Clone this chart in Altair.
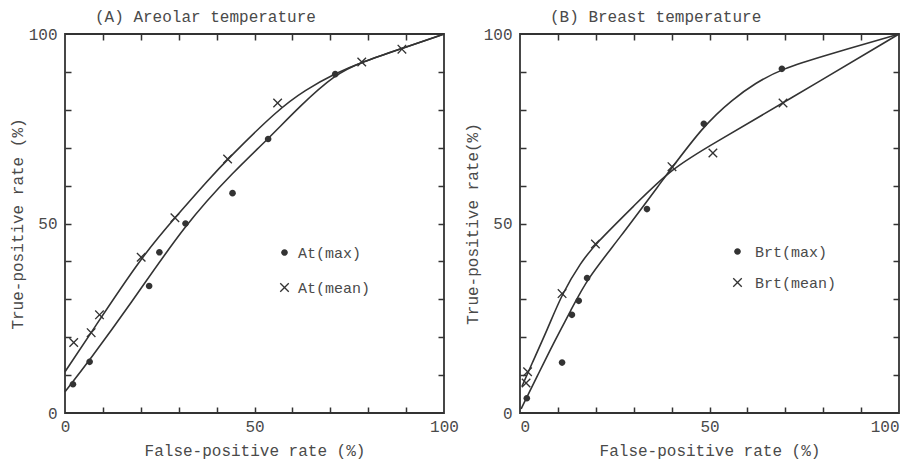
import altair as alt
import pandas as pd

FONT = "Liberation Mono"
INK = "#333333"
TXT = "#4a4a4a"
W, H = 379, 379

# ---------------- Panel A: Areolar temperature ----------------
a_max_fpr = [2.1, 6.5, 22.2, 24.9, 31.8, 44.2, 53.6, 71.3]
a_max_tpr = [7.6, 13.5, 33.5, 42.4, 50.0, 58.0, 72.3, 89.4]
a_mean_fpr = [2.3, 6.9, 9.1, 20.1, 29.0, 42.9, 56.1, 78.3, 88.9]
a_mean_tpr = [18.6, 21.2, 25.9, 41.1, 51.5, 67.0, 81.8, 92.6, 96.0]

a_max_curve_x = [0, 6.5, 16.8, 31.8, 44.8, 53.6, 62.0, 71.3, 78.3, 88.9, 100]
a_max_curve_y = [5.6, 14.0, 28.0, 50.0, 64.0, 72.3, 81.0, 89.4, 92.6, 96.2, 100]
a_mean_curve_x = [0, 6.9, 20.1, 29.0, 37.8, 42.9, 56.1, 63.3, 71.3, 78.3, 88.9, 100]
a_mean_curve_y = [10.9, 21.2, 41.1, 51.5, 61.5, 67.0, 80.0, 85.2, 89.6, 92.6, 96.2, 100]

# ---------------- Panel B: Breast temperature ----------------
b_max_fpr = [1.8, 11.1, 13.7, 15.5, 17.7, 33.5, 48.5, 69.1]
b_max_tpr = [3.9, 13.3, 25.9, 29.6, 35.6, 53.8, 76.3, 90.8]
b_mean_fpr = [1.6, 2.0, 11.1, 19.9, 40.1, 50.9, 69.4]
b_mean_tpr = [7.9, 10.9, 31.5, 44.6, 65.0, 68.6, 81.8]

b_max_curve_x = [0.3, 4.7, 8.6, 13.5, 17.7, 26.1, 37.3, 48.5, 56.2, 62.0, 69.1, 80.0, 100]
b_max_curve_y = [1.1, 10.0, 18.0, 27.2, 35.4, 45.9, 61.0, 76.0, 82.8, 87.0, 90.8, 94.2, 100]
b_mean_curve_x = [0.5, 2.9, 7.3, 11.1, 16.1, 19.9, 30.0, 40.1, 50.9, 69.4, 100]
b_mean_curve_y = [7.0, 12.5, 22.2, 31.5, 39.8, 44.6, 54.6, 64.6, 71.0, 81.8, 100]

CIRCLE = "M0.7,0A0.7,0.7,0,1,1,-0.7,0A0.7,0.7,0,1,1,0.7,0Z"
CROSS = ("M-1,-0.8L-0.8,-1L0,-0.2L0.8,-1L1,-0.8L0.2,0L1,0.8L0.8,1"
         "L0,0.2L-0.8,1L-1,0.8L-0.2,0Z")

inner_ticks = [10, 20, 30, 40, 50, 60, 70, 80, 90]


def scale():
    return alt.Scale(domain=[0, 100], nice=False, zero=False)


def tick_axis(orient):
    return alt.Axis(orient=orient, offset=-(H if orient in ("top", "bottom") else W),
                    values=inner_ticks, labels=False, ticks=True, tickSize=6,
                    tickWidth=1.5, tickColor=INK, domain=False, grid=False, title=None)


def panel(title, y_title, max_lbl, mean_lbl, pmax, pmean, cmax, cmean,
          lx, ly, row_pad, lab_off, flush):
    df_cmax = pd.DataFrame({"fpr": cmax[0], "tpr": cmax[1]})
    df_cmean = pd.DataFrame({"fpr": cmean[0], "tpr": cmean[1]})
    df_pts = pd.concat([
        pd.DataFrame({"fpr": pmax[0], "tpr": pmax[1], "series": max_lbl}),
        pd.DataFrame({"fpr": pmean[0], "tpr": pmean[1], "series": mean_lbl}),
    ])

    line_max = alt.Chart(df_cmax).mark_line(
        interpolate="basis", color=INK, strokeWidth=1.6
    ).encode(
        x=alt.X("fpr:Q", scale=scale(), axis=alt.Axis(
            orient="bottom", values=[0, 50, 100], ticks=False, domain=False, grid=False,
            labelFont=FONT, labelFontSize=16, labelColor=TXT, labelPadding=5,
            labelFlush=flush, title="False-positive rate (%)", titleFont=FONT,
            titleFontSize=16, titleColor=TXT, titleFontWeight="normal", titlePadding=8)),
        y=alt.Y("tpr:Q", scale=scale(), axis=alt.Axis(
            orient="left", values=[0, 50, 100], ticks=False, domain=False, grid=False,
            labelFont=FONT, labelFontSize=16, labelColor=TXT, labelPadding=8,
            title=y_title, titleFont=FONT, titleFontSize=16, titleColor=TXT,
            titleFontWeight="normal", titlePadding=3)),
    )

    points = alt.Chart(df_pts).mark_point(
        filled=True, color=INK, strokeWidth=0, size=90, opacity=1
    ).encode(
        x=alt.X("fpr:Q", scale=scale(), axis=tick_axis("top")),
        y=alt.Y("tpr:Q", scale=scale(), axis=tick_axis("right")),
        shape=alt.Shape("series:N", scale=alt.Scale(domain=[max_lbl, mean_lbl],
                                                    range=[CIRCLE, CROSS]),
                        legend=alt.Legend(
                            title=None, orient="none", legendX=lx, legendY=ly,
                            padding=0, rowPadding=row_pad, labelOffset=lab_off,
                            labelFont=FONT, labelFontSize=15, labelColor=TXT,
                            symbolSize=90, symbolFillColor=INK,
                            symbolStrokeWidth=0)),
    )

    line_mean = alt.Chart(df_cmean).mark_line(
        interpolate="basis", color=INK, strokeWidth=1.6
    ).encode(
        x=alt.X("fpr:Q", scale=scale(), axis=tick_axis("bottom")),
        y=alt.Y("tpr:Q", scale=scale(), axis=tick_axis("left")),
    )

    return alt.layer(line_max, points, line_mean).resolve_axis(
        x="independent", y="independent"
    ).properties(
        width=W, height=H,
        title=alt.TitleParams(title, anchor="start", frame="group", dx=30, font=FONT,
                              fontSize=16, color=TXT, fontWeight="normal", offset=1),
    )


left = panel("(A) Areolar temperature", "True-positive rate (%)", "At(max)", "At(mean)",
             (a_max_fpr, a_max_tpr), (a_mean_fpr, a_mean_tpr),
             (a_max_curve_x, a_max_curve_y), (a_mean_curve_x, a_mean_curve_y),
             212, 211, 19, 6, False)
right = panel("(B) Breast temperature", "True-positive rate(%)", "Brt(max)", "Brt(mean)",
              (b_max_fpr, b_max_tpr), (b_mean_fpr, b_mean_tpr),
              (b_max_curve_x, b_max_curve_y), (b_mean_curve_x, b_mean_curve_y),
              210, 210, 15, 10, True)

chart = alt.hconcat(left, right, spacing=3).resolve_scale(
    shape="independent"
).resolve_legend(shape="independent").configure_view(
    stroke=INK, strokeWidth=1.8
).properties(padding={"left": 0, "top": 0, "right": -3, "bottom": 0})

chart.save("out.html", embed_options={"renderer": "svg", "actions": False})
